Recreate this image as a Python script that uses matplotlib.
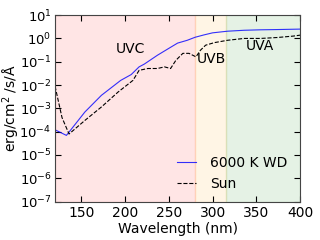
import matplotlib
matplotlib.use("Agg")
import matplotlib.pyplot as plt
import numpy as np

plt.rcParams["axes.unicode_minus"] = False

wd_wave = [120, 133, 154, 173, 195, 207, 216, 222, 237, 252, 260, 271, 280, 290, 300, 317, 336, 355, 373, 400]
wd_flux_log = [-3.92, -4.16, -3.16, -2.44, -1.80, -1.55, -1.22, -1.10, -0.72, -0.38, -0.20, -0.08, 0.05, 0.15, 0.24, 0.31, 0.35, 0.37, 0.38, 0.40]

sun_wave = [120, 128, 136, 154, 173, 192, 209, 216, 226, 237, 245, 252, 258, 266, 273, 281, 286, 292, 302, 317, 336, 355, 374, 392, 400]
sun_flux_log = [-2.05, -3.4, -4.1, -3.52, -2.94, -2.30, -1.80, -1.37, -1.29, -1.29, -1.22, -1.29, -0.94, -0.64, -0.64, -0.79, -0.51, -0.29, -0.18, -0.08, 0.0, 0.0, 0.04, 0.10, 0.14]

bands = ["UVC", "UVB", "UVA"]
band_edges = [(120, 280), (280, 315), (315, 400)]
band_colors = ["red", "orange", "green"]
band_label_pos = [(206, 0.35), (299, 0.13), (354, 0.47)]

fig = plt.figure(figsize=(3.2, 2.4), dpi=100)
ax = fig.add_axes([0.172, 0.16, 0.766, 0.777])

for (a, b), c in zip(band_edges, band_colors):
    ax.axvspan(a, b, facecolor=c, edgecolor=c, alpha=0.1, lw=1)

ax.plot(wd_wave, 10 ** np.array(wd_flux_log), color="blue", lw=0.8, alpha=0.8, label="6000 K WD")
ax.plot(sun_wave, 10 ** np.array(sun_flux_log), color="black", lw=0.8, ls="--", label="Sun")

for name, (x, y) in zip(bands, band_label_pos):
    ax.text(x, y, name, ha="center", va="center", fontsize=10)

ax.set_yscale("log")
ax.set_xlim(120, 400)
ax.set_ylim(1e-7, 1e1)
ax.set_xticks([150, 200, 250, 300, 350, 400])
ax.set_yticks([10.0 ** k for k in range(-7, 2)])
ax.tick_params(which="both", direction="in", top=True, right=True, labelsize=10)
ax.tick_params(axis="y", labelsize=9.5, pad=2.5)
ax.tick_params(which="major", length=4)
ax.tick_params(which="minor", length=2)
ax.set_xlabel("Wavelength (nm)", fontsize=10, labelpad=1)
ax.set_ylabel("erg/cm$^2$ /s/Å", fontsize=10)
ax.yaxis.set_label_coords(-0.135, 0.5)
for s in ax.spines.values():
    s.set_color("#444444")

ax.legend(loc="lower right", frameon=False, fontsize=10, handlelength=1.4,
          handletextpad=1.0, bbox_to_anchor=(1.0, -0.01))

fig.savefig("out.png", dpi=100)
